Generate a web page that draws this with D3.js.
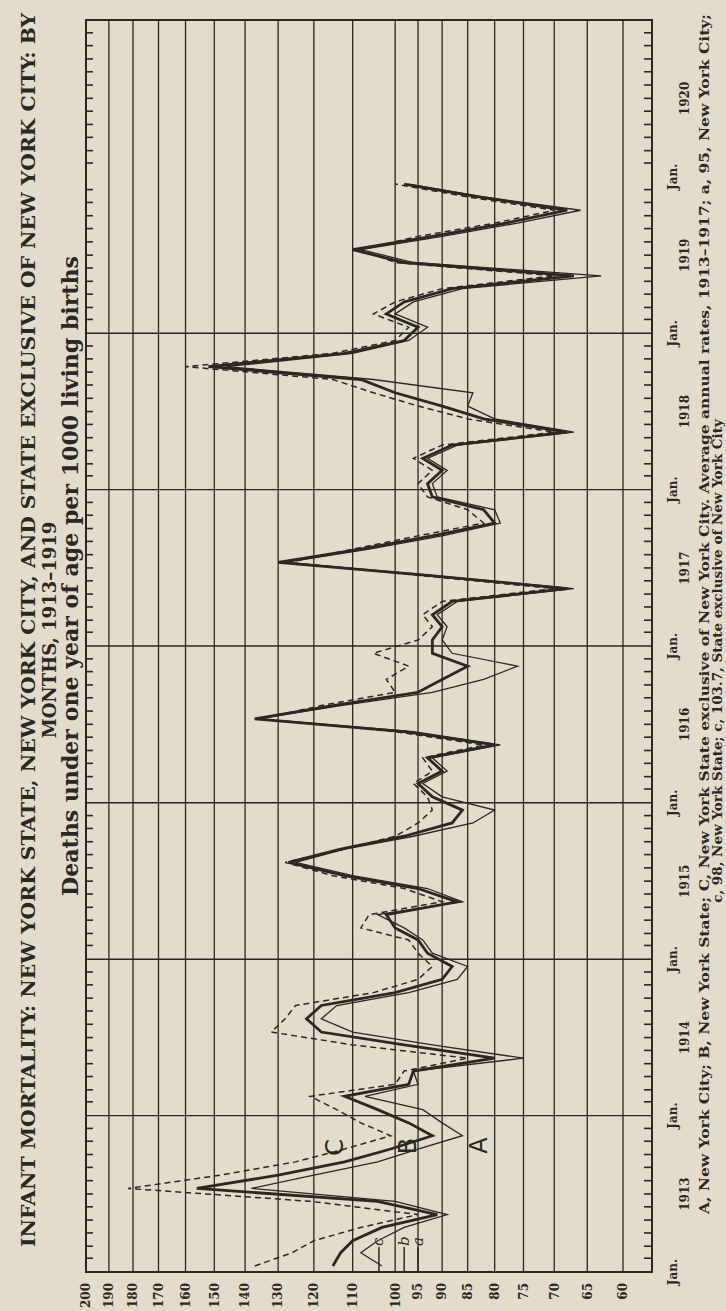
<!DOCTYPE html>
<html>
<head>
<meta charset="utf-8">
<script src="https://cdn.jsdelivr.net/npm/d3@7"></script>
<style>
  body { margin: 0; background: #e3dccb; }
  svg { display: block; }
  text { font-family: "DejaVu Serif", "Liberation Serif", serif; font-weight: bold; fill: #2b2723; }
</style>
</head>
<body>
<div id="chart"></div>
<script>
// monthly infant mortality, deaths under 1 year per 1000 births, Jan 1913 - Dec 1919
const years = [1913, 1914, 1915, 1916, 1917, 1918, 1919, 1920];
const valueTicks = [200, 190, 180, 170, 160, 150, 140, 130, 120, 110, 100, 95, 90, 85, 80, 75, 70, 65, 60];

// A, New York City (thin line)
const cityA = [
  103, 108, 104, 98, 89, 100, 138, 120, 104, 95, 86, 90,
  94, 107, 95, 96, 75, 92, 110, 118, 114, 97, 87, 85,
  92, 94, 98, 104, 86, 93, 110, 125, 112, 96, 84, 80,
  90, 94, 89, 92, 79, 96, 136, 113, 92, 82, 76, 88,
  90, 89, 91, 87, 67, 92, 128, 106, 90, 79, 80, 91,
  92, 89, 93, 87, 67, 80, 85, 84, 105, 146, 110, 97,
  93, 100, 96, 86, 63, 96, 108, 90, 76, 66, 82, 97
];
// B, New York State (heavy line)
const stateB = [
  115, 113, 110, 103, 91, 104, 156, 130, 112, 101, 92, 97,
  104, 112, 97, 96, 80, 98, 118, 122, 118, 100, 90, 88,
  93, 95, 100, 102, 87, 95, 112, 127, 113, 98, 88, 86,
  92, 95, 90, 93, 80, 98, 137, 115, 95, 90, 85, 92,
  92, 90, 92, 88, 68, 93, 130, 108, 92, 80, 82, 92,
  93, 90, 94, 88, 68, 82, 90, 100, 108, 152, 112, 98,
  95, 102, 98, 88, 67, 98, 110, 92, 78, 68, 83, 98
];
// C, State exclusive of New York City (dashed line)
const exclC = [
  137, 126, 120, 108, 95, 121, 182, 148, 125, 112, 101, 108,
  114, 121, 100, 98, 85, 110, 132, 128, 125, 105, 95, 92,
  95, 97, 108, 106, 90, 98, 115, 128, 112, 100, 95, 92,
  93, 96, 92, 94, 82, 100, 135, 118, 100, 102, 97, 105,
  95, 92, 94, 90, 70, 95, 127, 110, 95, 82, 85, 93,
  95, 92, 96, 90, 70, 85, 95, 105, 115, 160, 115, 100,
  97, 105, 100, 90, 70, 100, 108, 95, 80, 70, 85, 100
];
// average annual rates 1913-1917
const avgKeys = ["c", "b", "a"];
const avgValues = [103.7, 98, 95];
// curve letters: month index (from Jan 1913) and value where each letter sits
const curveKeys = ["C", "B", "A"];
const curveMonth = [9.6, 9.7, 9.75];
const curveValue = [114.7, 97.2, 82.9];

const titleLines = [
  "INFANT MORTALITY: NEW YORK STATE, NEW YORK CITY, AND STATE EXCLUSIVE OF NEW YORK CITY: BY",
  "MONTHS, 1913\u20131919"
];
const subtitle = "Deaths under one year of age per 1000 living births";
const captionLines = [
  "A, New York City; B, New York State; C, New York State exclusive of New York City.  Average annual rates, 1913\u20131917; a, 95, New York City;",
  "c, 98, New York State; c, 103.7, State exclusive of New York City"
];

const ink = "#2b2723";
const W = 1311; // the chart is drawn lying down and turned a quarter left

const svg = d3.select("#chart").append("svg")
  .attr("width", 726)
  .attr("height", 1311);

svg.append("rect").attr("width", 726).attr("height", 1311).attr("fill", "#e3dccb");

const g = svg.append("g")
  .attr("transform", `translate(0,${W}) rotate(-90)`);

const x = d3.scaleTime()
  .domain([new Date(1913, 0, 1), new Date(1921, 0, 1)])
  .range([39, 1291]);

const y = d3.scaleLog()
  .domain([200, 60])
  .range([86, 623]);

const plotTop = y(200), plotBottom = 652;
const plotLeft = x.range()[0], plotRight = x.range()[1];
const monthX = m => x(new Date(1913, Math.floor(m), 1 + (m % 1) * 30.4));

// grid
g.append("g").selectAll("line")
  .data(valueTicks.slice(1))
  .enter().append("line")
  .attr("x1", plotLeft).attr("x2", plotRight)
  .attr("y1", d => y(d)).attr("y2", d => y(d))
  .attr("stroke", ink).attr("stroke-width", 1.3);

const jans = years.slice(1).map(yr => new Date(yr, 0, 1));
g.append("g").selectAll("line")
  .data(jans.slice(0, -1))
  .enter().append("line")
  .attr("x1", d => x(d)).attr("x2", d => x(d))
  .attr("y1", plotTop).attr("y2", plotBottom)
  .attr("stroke", ink).attr("stroke-width", 1.4);

g.append("rect")
  .attr("x", plotLeft).attr("y", plotTop)
  .attr("width", plotRight - plotLeft).attr("height", plotBottom - plotTop)
  .attr("fill", "none").attr("stroke", ink).attr("stroke-width", 2);

// month ticks on both long edges
const monthTicks = d3.timeMonth.range(new Date(1913, 1, 1), new Date(1921, 0, 1))
  .filter(d => d.getMonth() !== 0);

const tickTop = g.append("g")
  .attr("transform", `translate(0,${plotTop})`)
  .call(d3.axisBottom(x).tickValues(monthTicks).tickSize(7).tickFormat(""));
const tickBottom = g.append("g")
  .attr("transform", `translate(0,${plotBottom})`)
  .call(d3.axisTop(x).tickValues(monthTicks).tickSize(8).tickFormat(""));
[tickTop, tickBottom].forEach(a => {
  a.select(".domain").remove();
  a.selectAll("line").attr("stroke", ink).attr("stroke-width", 1.6);
});

// value labels
const yAxis = g.append("g")
  .attr("transform", `translate(${plotLeft},0)`)
  .call(d3.axisLeft(y).tickValues(valueTicks).tickSize(0).tickPadding(11).tickFormat(d3.format("d")));
yAxis.select(".domain").remove();
yAxis.selectAll("text")
  .style("font-family", "'DejaVu Serif', serif").style("font-weight", "bold")
  .attr("font-size", 12).attr("fill", ink);

// Jan. and year labels under the time axis
g.append("g").selectAll("text")
  .data([new Date(1913, 0, 1)].concat(jans))
  .enter().append("text")
  .attr("x", d => x(d)).attr("y", 677)
  .attr("text-anchor", "middle").attr("font-size", 12)
  .text("Jan.");

g.append("g").selectAll("text")
  .data(years)
  .enter().append("text")
  .attr("x", d => x(new Date(d, 6, 2))).attr("y", 689)
  .attr("text-anchor", "middle").attr("font-size", 12)
  .text(d => d);

// series
const months = d3.range(cityA.length).map(i => new Date(1913, i, 15));
const line = d3.line()
  .x((d, i) => x(months[i]))
  .y(d => y(d));

const series = [
  { values: exclC, width: 1.5, dash: "6,4" },
  { values: cityA, width: 1.3, dash: null },
  { values: stateB, width: 2.8, dash: null }
];
g.append("g").selectAll("path")
  .data(series)
  .enter().append("path")
  .attr("d", d => line(d.values))
  .attr("fill", "none")
  .attr("stroke", ink)
  .attr("stroke-width", d => d.width)
  .attr("stroke-dasharray", d => d.dash)
  .attr("stroke-linejoin", "miter");

// averages a, b, c
const avg = g.append("g").selectAll("g")
  .data(avgValues)
  .enter().append("g");
avg.append("line")
  .attr("x1", plotLeft).attr("x2", plotLeft + 25)
  .attr("y1", d => y(d)).attr("y2", d => y(d))
  .attr("stroke", ink).attr("stroke-width", 1.5);
avg.append("text")
  .attr("x", plotLeft + 26).attr("y", d => y(d))
  .attr("dy", "0.3em")
  .attr("font-size", 15).style("font-style", "italic").style("font-weight", "normal")
  .text((d, i) => avgKeys[i]);

// A B C letters by the first autumn low
g.append("g").selectAll("text")
  .data(curveKeys)
  .enter().append("text")
  .attr("x", (d, i) => monthX(curveMonth[i]))
  .attr("y", (d, i) => y(curveValue[i]))
  .attr("dy", "0.36em")
  .attr("text-anchor", "middle")
  .attr("font-size", 24)
  .style("font-family", "'DejaVu Sans', sans-serif").style("font-weight", "normal")
  .text(d => d);

// titles
g.append("text")
  .attr("x", 681).attr("y", 35)
  .attr("text-anchor", "middle").attr("font-size", 19)
  .attr("textLength", 1234).attr("lengthAdjust", "spacingAndGlyphs")
  .text(titleLines[0]);
g.append("text")
  .attr("x", 681).attr("y", 56)
  .attr("text-anchor", "middle").attr("font-size", 18)
  .text(titleLines[1]);
g.append("text")
  .attr("x", 735).attr("y", 78)
  .attr("text-anchor", "middle").attr("font-size", 22)
  .attr("textLength", 640).attr("lengthAdjust", "spacingAndGlyphs")
  .text(subtitle);

g.append("text")
  .attr("x", 697).attr("y", 709)
  .attr("text-anchor", "middle").attr("font-size", 13.5)
  .attr("textLength", 1200).attr("lengthAdjust", "spacingAndGlyphs")
  .text(captionLines[0]);
g.append("text")
  .attr("x", 650).attr("y", 722)
  .attr("text-anchor", "middle").attr("font-size", 13.5)
  .text(captionLines[1]);
</script>
</body>
</html>
